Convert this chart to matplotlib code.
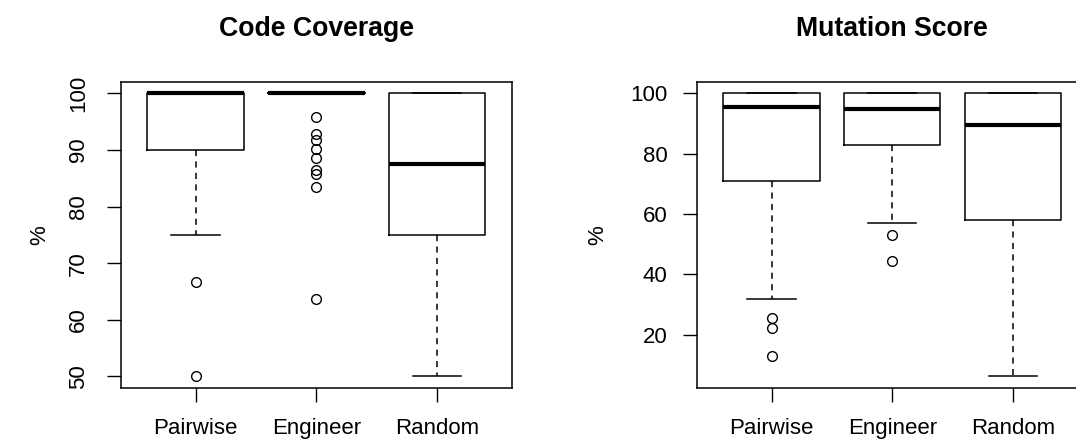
import matplotlib
matplotlib.use("Agg")
from matplotlib import pyplot as plt

plt.rcParams['font.family'] = ['Liberation Sans', 'DejaVu Sans']
plt.rcParams['font.size'] = 16

groups = ['Pairwise', 'Engineer', 'Random']

# Code Coverage (box stats)
cov_q1 = [90.0, 100.0, 75.0]
cov_med = [100.0, 100.0, 87.5]
cov_q3 = [100.0, 100.0, 100.0]
cov_whislo = [75.0, 100.0, 50.0]
cov_whishi = [100.0, 100.0, 100.0]
cov_fliers = [
    [66.7, 50.0],
    [95.8, 92.9, 91.7, 90.1, 88.6, 86.4, 85.8, 83.4, 63.6],
    [],
]
cov_ticks = [50, 60, 70, 80, 90, 100]

# Mutation Score
mut_q1 = [71.0, 82.8, 58.0]
mut_med = [95.4, 94.9, 89.5]
mut_q3 = [100.0, 100.0, 100.0]
mut_whislo = [31.7, 57.1, 6.2]
mut_whishi = [100.0, 100.0, 100.0]
mut_fliers = [
    [25.7, 22.3, 12.8],
    [53.2, 44.4],
    [],
]
mut_ticks = [20, 40, 60, 80, 100]


def make_stats(q1, med, q3, lo, hi, fliers):
    return [dict(label=g, q1=a, med=m, q3=b, whislo=l, whishi=h, fliers=f)
            for g, a, m, b, l, h, f in zip(groups, q1, med, q3, lo, hi, fliers)]


def draw(ax, stats, ticks, title, rotate_y):
    ax.bxp(stats, positions=[1, 2, 3], widths=0.8, capwidths=0.4,
           showfliers=True,
           boxprops=dict(color='black', linewidth=1.1),
           medianprops=dict(color='black', linewidth=3.0, solid_capstyle='butt'),
           whiskerprops=dict(color='black', linewidth=1.1, linestyle=(0, (4, 3.5))),
           capprops=dict(color='black', linewidth=1.1),
           flierprops=dict(marker='o', markerfacecolor='none', markeredgecolor='black',
                           markersize=7, markeredgewidth=1.0, linestyle='none'))
    # R style: data range padded by 4% on each side
    lo = min(min(s['whislo'] for s in stats),
             min(min(s['fliers']) if len(s['fliers']) else 1e9 for s in stats))
    hi = max(s['whishi'] for s in stats)
    ext = 0.04 * (hi - lo)
    ax.set_ylim(lo - ext, hi + ext)
    ax.set_xlim(0.38, 3.62)
    ax.set_yticks(ticks)
    ax.set_xticks([1, 2, 3])
    ax.set_xticklabels(groups)
    ax.tick_params(axis='both', direction='out', length=10, width=1.0, color='black')
    ax.tick_params(axis='x', pad=12)
    if rotate_y:
        ax.tick_params(axis='y', pad=13)
        for t in ax.get_yticklabels():
            t.set_rotation(90)
            t.set_va('center')
    else:
        ax.tick_params(axis='y', pad=11)
    for sp in ax.spines.values():
        sp.set_linewidth(1.1)
        sp.set_color('black')
    ax.set_title(title, fontsize=19.2, fontweight='bold', pad=33)
    ax.set_ylabel('%')


fig = plt.figure(figsize=(10.76, 4.43), dpi=100)
ax1 = fig.add_axes([0.1122, 0.1248, 0.3634, 0.6901])
ax2 = fig.add_axes([0.6475, 0.1248, 0.3634, 0.6901])

draw(ax1, make_stats(cov_q1, cov_med, cov_q3, cov_whislo, cov_whishi, cov_fliers),
     cov_ticks, 'Code Coverage', True)
draw(ax2, make_stats(mut_q1, mut_med, mut_q3, mut_whislo, mut_whishi, mut_fliers),
     mut_ticks, 'Mutation Score', False)

ax1.yaxis.set_label_coords(-0.18, 0.5)
ax2.yaxis.set_label_coords(-0.227, 0.5)

fig.savefig('out.png', dpi=100)
